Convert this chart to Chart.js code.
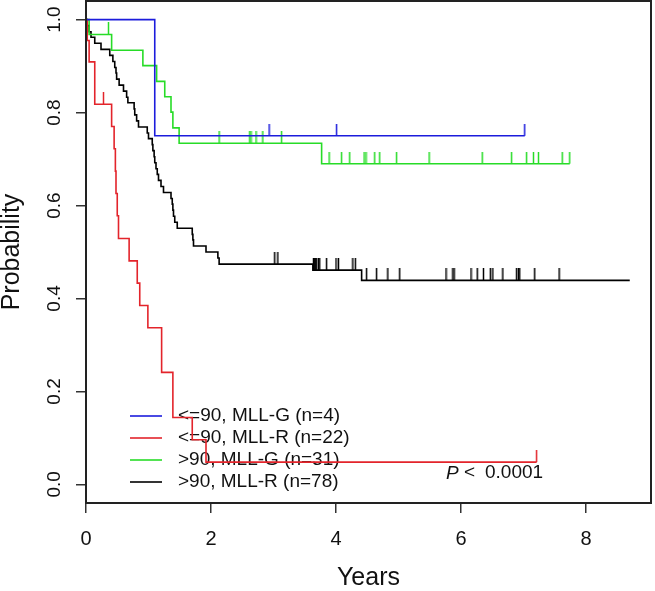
<!DOCTYPE html>
<html>
<head>
<meta charset="utf-8">
<script src="https://cdn.jsdelivr.net/npm/chart.js@4.4.0/dist/chart.umd.min.js"></script>
<style>
  html, body { margin: 0; padding: 0; background: #fff; }
  canvas { display: block; }
</style>
</head>
<body>
<canvas id="grafico" width="655" height="591"></canvas>
<script>
var fonte = "'Liberation Sans', Arial, sans-serif";

var legendas = ["<=90, MLL-G (n=4)", "<=90, MLL-R (n=22)", ">90, MLL-G (n=31)", ">90, MLL-R (n=78)"];
var cores = ["#1c1cdc", "#e3242b", "#27dc27", "#000000"];

// <=90, MLL-G
var tempoAzul = [0, 1.10, 7.02];
var survAzul = [1, 0.75, 0.75];
var censAzul = [2.93, 4.01, 7.02];

// <=90, MLL-R
var tempoVermelho = [0, 0.02, 0.05, 0.14, 0.14, 0.41, 0.45, 0.47, 0.48, 0.50, 0.52, 0.69, 0.82, 0.86, 0.99, 1.21, 1.21, 1.39, 1.39, 1.70, 1.92, 7.21];
var survVermelho = [1, 0.955, 0.909, 0.864, 0.818, 0.770, 0.722, 0.674, 0.626, 0.578, 0.529, 0.481, 0.433, 0.385, 0.337, 0.289, 0.241, 0.192, 0.144, 0.096, 0.048, 0.048];
var censVermelho = [0.28, 7.21];

// >90, MLL-G
var tempoVerde = [0, 0.05, 0.41, 0.91, 1.13, 1.26, 1.36, 1.39, 1.49, 3.77, 7.74];
var survVerde = [1, 0.968, 0.934, 0.901, 0.867, 0.834, 0.801, 0.767, 0.734, 0.690, 0.690];
var censVerde = [0.36, 2.13, 2.62, 2.64, 2.72, 2.83, 3.13, 3.89, 4.09, 4.22, 4.45, 4.48, 4.62, 4.70, 4.97, 5.49, 6.34, 6.81, 7.05, 7.16, 7.24, 7.62, 7.74];

// >90, MLL-R
var tempoPreto = [0, 0.02, 0.05, 0.08, 0.14, 0.24, 0.38, 0.43, 0.46, 0.48, 0.49, 0.53, 0.60, 0.65, 0.67, 0.77, 0.78, 0.81, 0.84, 0.98, 1.00, 1.06, 1.07, 1.09, 1.10, 1.12, 1.14, 1.16, 1.20, 1.24, 1.36, 1.38, 1.39, 1.40, 1.42, 1.46, 1.70, 1.71, 1.72, 1.92, 2.11, 2.13, 3.63, 4.41, 8.70];
var survPreto = [1, 0.987, 0.974, 0.962, 0.949, 0.936, 0.923, 0.910, 0.897, 0.885, 0.872, 0.859, 0.846, 0.833, 0.821, 0.808, 0.795, 0.782, 0.769, 0.756, 0.744, 0.731, 0.718, 0.705, 0.692, 0.679, 0.667, 0.654, 0.641, 0.628, 0.615, 0.603, 0.590, 0.577, 0.564, 0.551, 0.538, 0.526, 0.513, 0.500, 0.487, 0.474, 0.461, 0.439, 0.439];
var censPreto = [3.02, 3.07, 3.64, 3.65, 3.66, 3.67, 3.69, 3.72, 3.74, 3.85, 4.00, 4.04, 4.27, 4.31, 4.49, 4.65, 4.83, 5.02, 5.76, 5.87, 5.89, 6.16, 6.26, 6.36, 6.47, 6.51, 6.67, 6.89, 6.92, 6.94, 7.18, 7.57];

var xTicks = [0, 2, 4, 6, 8];
var yTicks = [0, 0.2, 0.4, 0.6, 0.8, 1.0];

function pontos(tempos, surv) {
  return tempos.map(function (t, i) { return { x: t, y: surv[i] }; });
}

// valor da curva no tempo t (para as marcas de censura)
function survNoTempo(tempos, surv, t) {
  var s = surv[0];
  for (var i = 0; i < tempos.length; i++) {
    if (tempos[i] <= t) s = surv[i];
  }
  return s;
}

// marca de censura: traco vertical so para cima do ponto
function marca(cor) {
  var c = document.createElement("canvas");
  c.width = 3;
  c.height = 24;
  var ctx = c.getContext("2d");
  ctx.strokeStyle = cor;
  ctx.lineWidth = 1.5;
  ctx.beginPath();
  ctx.moveTo(1.5, 0);
  ctx.lineTo(1.5, 12);
  ctx.stroke();
  return c;
}

var grupos = [
  [tempoAzul, survAzul, censAzul],
  [tempoVermelho, survVermelho, censVermelho],
  [tempoVerde, survVerde, censVerde],
  [tempoPreto, survPreto, censPreto],
];

var datasets = [];
grupos.forEach(function (g, i) {
  datasets.push({
    type: "line",
    label: legendas[i],
    data: pontos(g[0], g[1]),
    borderColor: cores[i],
    borderWidth: 1.6,
    stepped: true,
    pointRadius: 0,
    fill: false,
  });
});
grupos.forEach(function (g, i) {
  datasets.push({
    type: "scatter",
    label: "cens" + i,
    data: g[2].map(function (t) { return { x: t, y: survNoTempo(g[0], g[1], t) }; }),
    pointStyle: marca(cores[i]),
    pointRadius: 6,
    showLine: false,
  });
});

var caixaPlugin = {
  id: "caixa",
  afterDraw: function (chart) {
    var a = chart.chartArea;
    var ctx = chart.ctx;
    ctx.save();
    ctx.strokeStyle = "#222";
    ctx.lineWidth = 2;
    ctx.strokeRect(a.left, a.top, a.right - a.left, a.bottom - a.top);
    ctx.restore();
  },
};

var legendaPlugin = {
  id: "legendaR",
  beforeDatasetsDraw: function (chart) {
    var a = chart.chartArea;
    var ctx = chart.ctx;
    ctx.save();
    ctx.font = "19px " + fonte;
    ctx.textBaseline = "middle";
    for (var i = 0; i < 4; i++) {
      var y = a.bottom - 87 + i * 22;
      ctx.strokeStyle = chart.data.datasets[i].borderColor;
      ctx.lineWidth = 1.6;
      ctx.beginPath();
      ctx.moveTo(a.left + 44, y);
      ctx.lineTo(a.left + 76, y);
      ctx.stroke();
      ctx.fillStyle = "#111";
      ctx.fillText(chart.data.datasets[i].label, a.left + 92, y);
    }
    // valor p
    var xs = chart.scales.x;
    var ys = chart.scales.y;
    var px = xs.getPixelForValue(5.76);
    var py = ys.getPixelForValue(0.024);
    ctx.font = "italic 19px " + fonte;
    ctx.fillText("P", px, py);
    ctx.font = "19px " + fonte;
    ctx.fillText("<", px + 18, py);
    ctx.fillText("0.0001", px + 39, py);
    ctx.restore();
  },
};

new Chart(document.getElementById("grafico"), {
  data: { datasets: datasets },
  options: {
    responsive: false,
    animation: false,
    layout: { autoPadding: false, padding: { top: 1, right: 4, left: 0, bottom: 0 } },
    plugins: { legend: { display: false }, tooltip: { enabled: false } },
    scales: {
      x: {
        type: "linear",
        min: 0,
        max: 9.04,
        afterBuildTicks: function (axis) {
          axis.ticks = xTicks.map(function (v) { return { value: v }; });
        },
        afterFit: function (axis) {
          axis.height = 88;
          axis.paddingLeft = 0;
          axis.paddingRight = 0;
        },
        grid: { drawOnChartArea: false, tickLength: 10, color: "#333", lineWidth: 1.5 },
        border: { display: false },
        ticks: { padding: 14, color: "#111", font: { family: fonte, size: 20 } },
        title: { display: true, text: "Years", color: "#111", padding: 0, font: { family: fonte, size: 25, lineHeight: 1 } },
      },
      y: {
        type: "linear",
        min: -0.04,
        max: 1.04,
        afterBuildTicks: function (axis) {
          axis.ticks = yTicks.map(function (v) { return { value: v }; });
        },
        afterFit: function (axis) {
          axis.width = 86;
          axis.paddingTop = 0;
          axis.paddingBottom = 0;
        },
        grid: { drawOnChartArea: false, tickLength: 10, color: "#333", lineWidth: 1.5 },
        border: { display: false },
        ticks: {
          minRotation: 90,
          maxRotation: 90,
          crossAlign: "center",
          padding: 8,
          color: "#111",
          font: { family: fonte, size: 19 },
          callback: function (v) { return v.toFixed(1); },
        },
        title: { display: true, text: "Probability", color: "#111", padding: 0, font: { family: fonte, size: 25, lineHeight: 1 } },
      },
    },
  },
  plugins: [caixaPlugin, legendaPlugin],
});
</script>
</body>
</html>
